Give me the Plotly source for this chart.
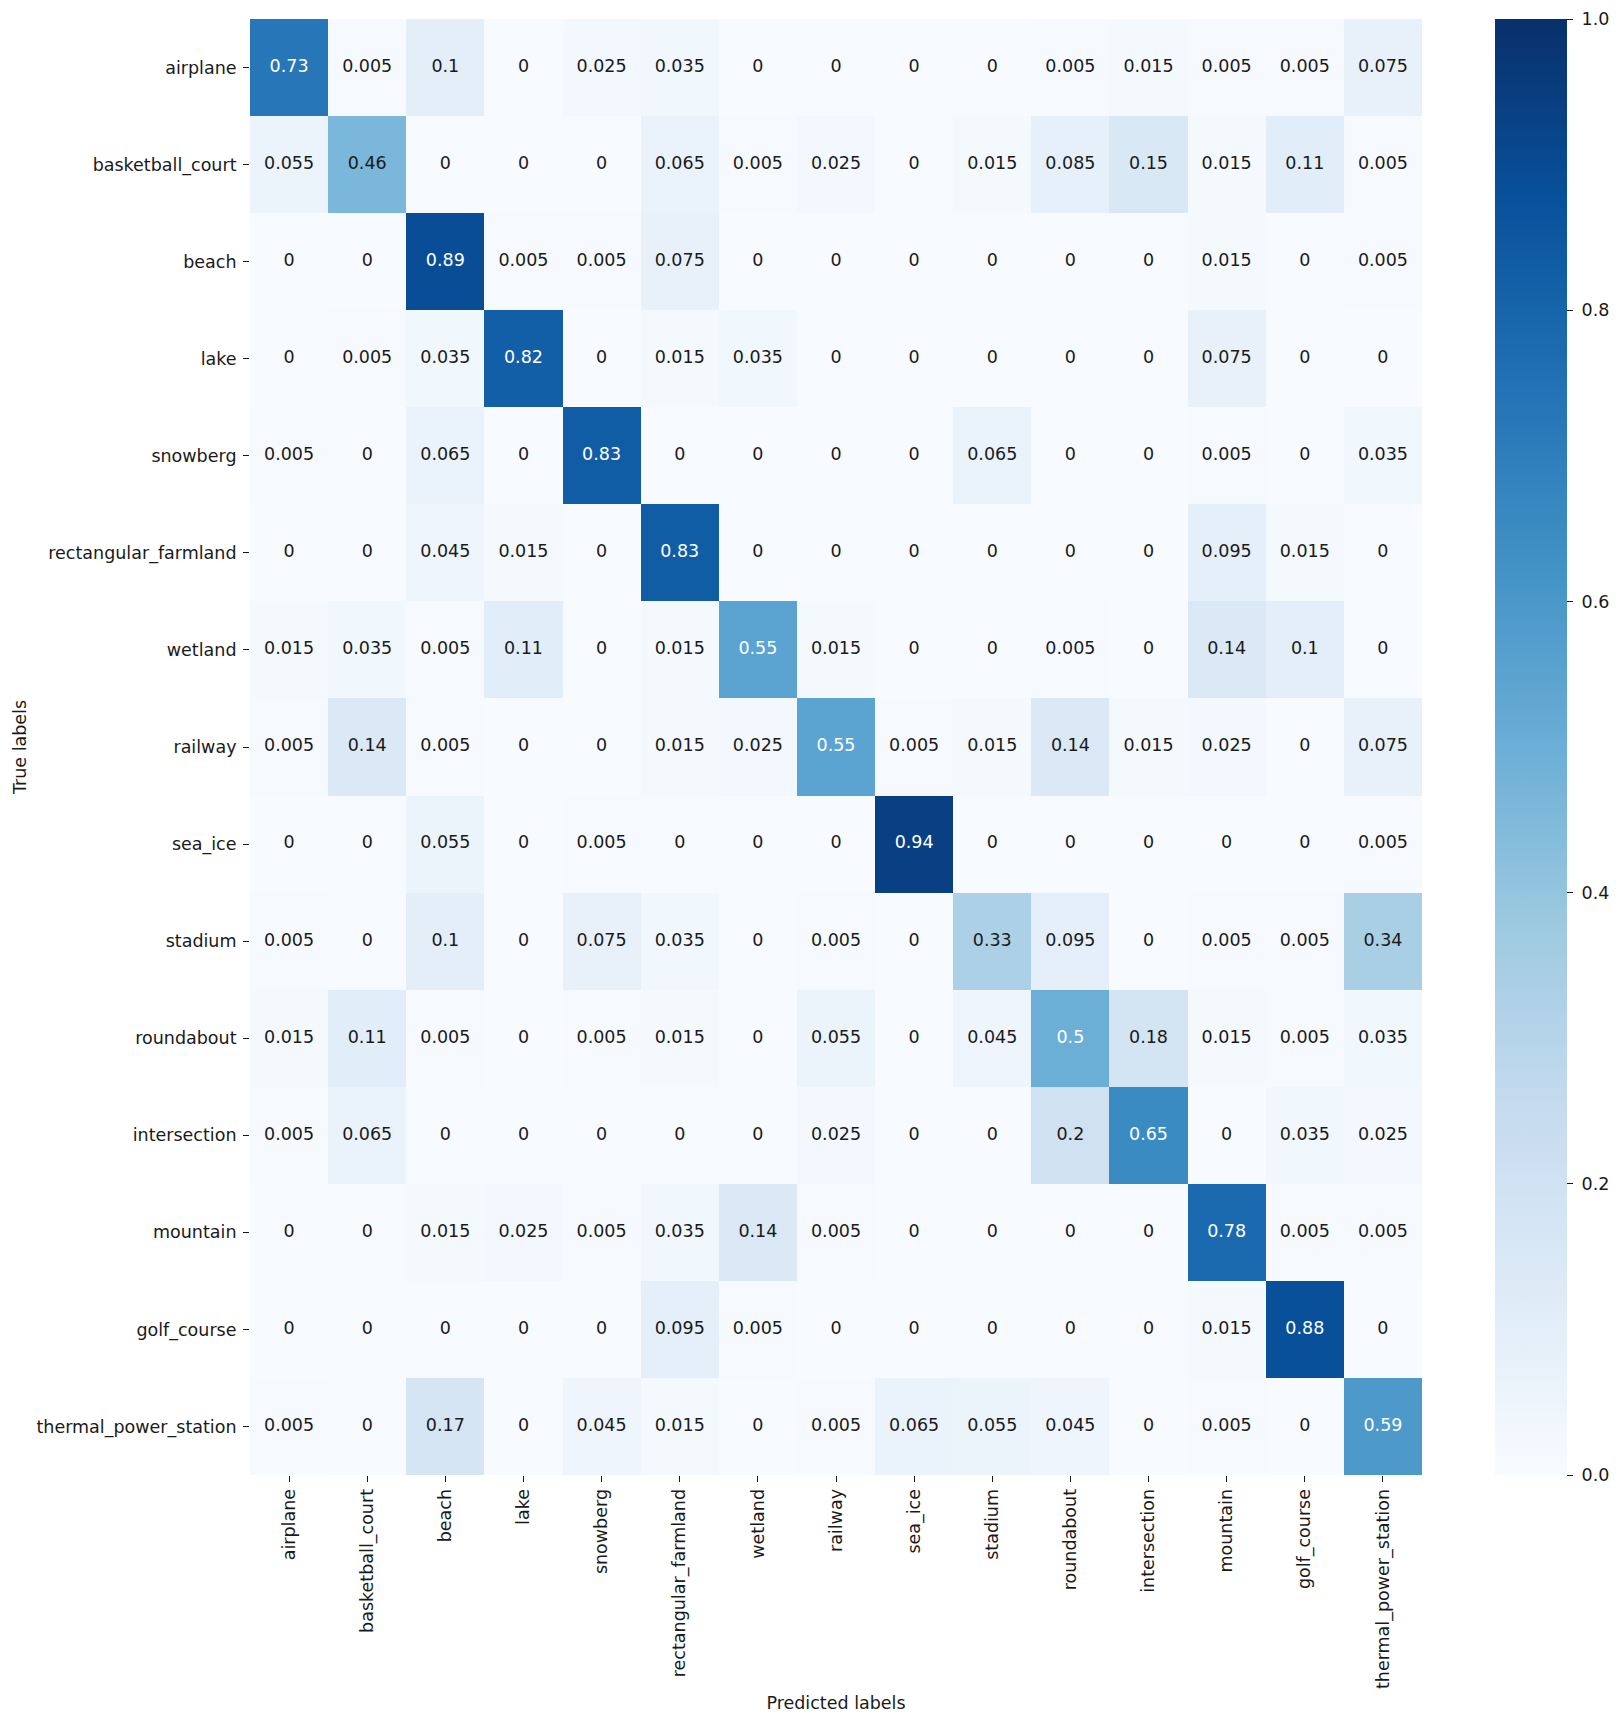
import plotly.graph_objects as go

labels = ['airplane', 'basketball_court', 'beach', 'lake', 'snowberg',
          'rectangular_farmland', 'wetland', 'railway', 'sea_ice', 'stadium',
          'roundabout', 'intersection', 'mountain', 'golf_course',
          'thermal_power_station']

airplane = [0.73, 0.005, 0.1, 0, 0.025, 0.035, 0, 0, 0, 0, 0.005, 0.015, 0.005, 0.005, 0.075]
basketball_court = [0.055, 0.46, 0, 0, 0, 0.065, 0.005, 0.025, 0, 0.015, 0.085, 0.15, 0.015, 0.11, 0.005]
beach = [0, 0, 0.89, 0.005, 0.005, 0.075, 0, 0, 0, 0, 0, 0, 0.015, 0, 0.005]
lake = [0, 0.005, 0.035, 0.82, 0, 0.015, 0.035, 0, 0, 0, 0, 0, 0.075, 0, 0]
snowberg = [0.005, 0, 0.065, 0, 0.83, 0, 0, 0, 0, 0.065, 0, 0, 0.005, 0, 0.035]
rectangular_farmland = [0, 0, 0.045, 0.015, 0, 0.83, 0, 0, 0, 0, 0, 0, 0.095, 0.015, 0]
wetland = [0.015, 0.035, 0.005, 0.11, 0, 0.015, 0.55, 0.015, 0, 0, 0.005, 0, 0.14, 0.1, 0]
railway = [0.005, 0.14, 0.005, 0, 0, 0.015, 0.025, 0.55, 0.005, 0.015, 0.14, 0.015, 0.025, 0, 0.075]
sea_ice = [0, 0, 0.055, 0, 0.005, 0, 0, 0, 0.94, 0, 0, 0, 0, 0, 0.005]
stadium = [0.005, 0, 0.1, 0, 0.075, 0.035, 0, 0.005, 0, 0.33, 0.095, 0, 0.005, 0.005, 0.34]
roundabout = [0.015, 0.11, 0.005, 0, 0.005, 0.015, 0, 0.055, 0, 0.045, 0.5, 0.18, 0.015, 0.005, 0.035]
intersection = [0.005, 0.065, 0, 0, 0, 0, 0, 0.025, 0, 0, 0.2, 0.65, 0, 0.035, 0.025]
mountain = [0, 0, 0.015, 0.025, 0.005, 0.035, 0.14, 0.005, 0, 0, 0, 0, 0.78, 0.005, 0.005]
golf_course = [0, 0, 0, 0, 0, 0.095, 0.005, 0, 0, 0, 0, 0, 0.015, 0.88, 0]
thermal_power_station = [0.005, 0, 0.17, 0, 0.045, 0.015, 0, 0.005, 0.065, 0.055, 0.045, 0, 0.005, 0, 0.59]

matrix = [airplane, basketball_court, beach, lake, snowberg, rectangular_farmland,
          wetland, railway, sea_ice, stadium, roundabout, intersection, mountain,
          golf_course, thermal_power_station]

# matplotlib Blues
blues = ['#f7fbff', '#deebf7', '#c6dbef', '#9ecae1', '#6baed6',
         '#4292c6', '#2171b5', '#08519c', '#08306b']
colorscale = [[i / 8, c] for i, c in enumerate(blues)]

FONT = 'DejaVu Sans'
FONT_SIZE = 17.5
DARK = '#1a1a1a'

# cell labels, white on the dark cells
text_x, text_y, text_val, text_col = [], [], [], []
for row, vals in zip(labels, matrix):
    for col, v in zip(labels, vals):
        text_x.append(col)
        text_y.append(row)
        text_val.append(f'{v:g}')
        text_col.append('white' if v >= 0.5 else DARK)

fig = go.Figure()
fig.add_trace(go.Heatmap(
    z=matrix, x=labels, y=labels,
    zmin=0, zmax=1,
    colorscale=colorscale,
    hoverinfo='skip',
    colorbar=dict(
        x=1.0623, xanchor='left', xpad=0,
        y=0.5, yanchor='middle', ypad=0,
        len=1, lenmode='fraction',
        thickness=72, thicknessmode='pixels',
        outlinewidth=0,
        tick0=0, dtick=0.2, tickformat='.1f',
        tickprefix='\u00a0',  # label sits further off the tick than plotly's default
        ticks='outside', ticklen=6, tickwidth=1.2, tickcolor=DARK,
        tickfont=dict(family=FONT, size=FONT_SIZE, color=DARK),
    ),
))
fig.add_trace(go.Scatter(
    x=text_x, y=text_y, text=text_val,
    mode='text',
    textposition='middle center',
    textfont=dict(family=FONT, size=FONT_SIZE, color=text_col),
    hoverinfo='skip',
    showlegend=False,
))

fig.update_layout(
    width=1604, height=1709,
    margin=dict(l=242, r=190, t=11, b=242, autoexpand=False),
    paper_bgcolor='white',
    plot_bgcolor='white',
    font=dict(family=FONT, size=FONT_SIZE, color=DARK),
)
fig.update_xaxes(
    categoryorder='array', categoryarray=labels,
    range=[-0.5, 14.5],
    tickangle=-90, ticks='outside', ticklen=6, tickwidth=1.2, tickcolor=DARK,
    showgrid=False, zeroline=False, showline=False,
    tickfont=dict(family=FONT, size=FONT_SIZE, color=DARK),
    title=dict(text='Predicted labels', standoff=8, font=dict(family=FONT, size=FONT_SIZE, color=DARK)),
)
fig.update_yaxes(
    categoryorder='array', categoryarray=labels,
    range=[14.5, -0.5],
    ticks='outside', ticklen=6, tickwidth=1.2, tickcolor=DARK,
    ticklabelstandoff=3,
    showgrid=False, zeroline=False, showline=False,
    tickfont=dict(family=FONT, size=FONT_SIZE, color=DARK),
    title=dict(text='True labels', standoff=5, font=dict(family=FONT, size=FONT_SIZE, color=DARK)),
)

fig.write_html("out.html")
